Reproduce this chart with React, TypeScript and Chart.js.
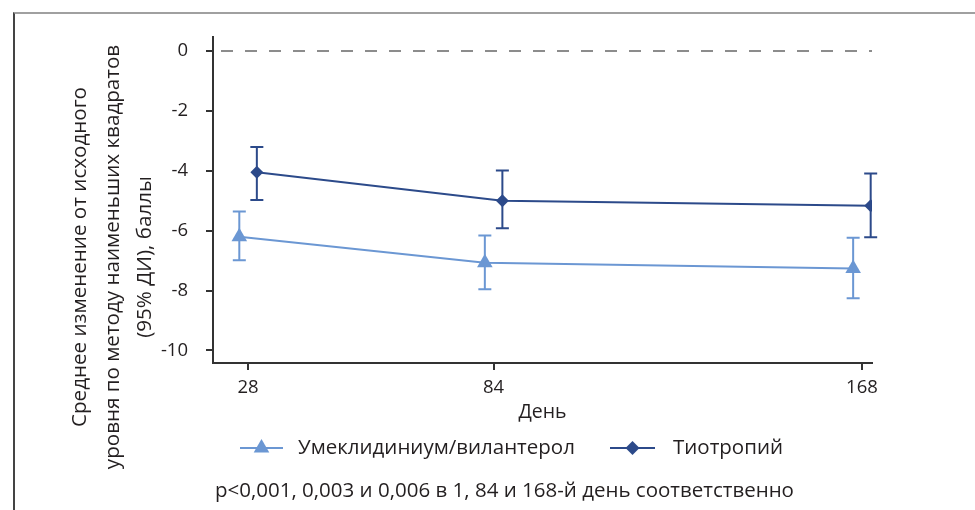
import React, { useEffect, useRef } from 'react';
import { Chart, registerables } from 'chart.js';

Chart.register(...registerables);

// ---- data ----
const days = [28, 84, 168];
const yTickValues = [0, -2, -4, -6, -8, -10];
const seriesNames = ['Умеклидиниум/вилантерол', 'Тиотропий'];
const umecMean = [-6.2, -7.07, -7.26];
const umecLow = [-6.99, -7.96, -8.26];
const umecHigh = [-5.36, -6.16, -6.24];
const tioMean = [-4.05, -5.0, -5.17];
const tioLow = [-4.98, -5.92, -6.22];
const tioHigh = [-3.21, -3.99, -4.09];
const dodgeDays = 2;
const xTitle = 'День';
const yTitleLines = [
  'Среднее изменение от исходного',
  'уровня по методу наименьших квадратов',
  '(95% ДИ), баллы',
];
const footnote = 'p<0,001, 0,003 и 0,006 в 1, 84 и 168-й день соответственно';

// ---- style ----
const LIGHT = '#6b97d3';
const DARK = '#2c4a8a';
const TEXT = '#231f20';
const FONT = '"Open Sans", "Noto Sans", sans-serif';

const lowHigh = [
  { low: umecLow, high: umecHigh, color: LIGHT },
  { low: tioLow, high: tioHigh, color: DARK },
];

const extrasPlugin = {
  id: 'extras',
  beforeDatasetsDraw(chart: any) {
    const { ctx, chartArea, scales } = chart;
    const y0 = scales.y.getPixelForValue(0);
    ctx.save();
    ctx.strokeStyle = '#8c8c8c';
    ctx.lineWidth = 2;
    ctx.setLineDash([12, 12]);
    ctx.beginPath();
    ctx.moveTo(chartArea.left + 8, y0);
    ctx.lineTo(chartArea.right, y0);
    ctx.stroke();
    ctx.restore();
  },
  afterDatasetsDraw(chart: any) {
    const { ctx, scales } = chart;
    ctx.save();
    lowHigh.forEach((s, i) => {
      const meta = chart.getDatasetMeta(i);
      ctx.strokeStyle = s.color;
      ctx.lineWidth = 2;
      meta.data.forEach((pt: any, j: number) => {
        const x = pt.x;
        const yl = scales.y.getPixelForValue(s.low[j]);
        const yh = scales.y.getPixelForValue(s.high[j]);
        ctx.beginPath();
        ctx.moveTo(x, yl);
        ctx.lineTo(x, yh);
        ctx.moveTo(x - 6.5, yl);
        ctx.lineTo(x + 6.5, yl);
        ctx.moveTo(x - 6.5, yh);
        ctx.lineTo(x + 6.5, yh);
        ctx.stroke();
      });
    });
    ctx.restore();
  },
  afterDraw(chart: any) {
    const { ctx } = chart;
    ctx.save();
    ctx.fillStyle = TEXT;
    // y title
    ctx.font = `20.6px ${FONT}`;
    ctx.textAlign = 'center';
    ctx.textBaseline = 'middle';
    const xs = [80, 113, 145];
    yTitleLines.forEach((line, i) => {
      ctx.save();
      ctx.translate(xs[i], 257);
      ctx.rotate(-Math.PI / 2);
      ctx.fillText(line, 0, 0);
      ctx.restore();
    });
    // legend
    const ly = 448;
    ctx.font = `20.5px ${FONT}`;
    ctx.textAlign = 'left';
    // item 1
    ctx.strokeStyle = LIGHT;
    ctx.lineWidth = 2;
    ctx.beginPath();
    ctx.moveTo(240, ly);
    ctx.lineTo(283, ly);
    ctx.stroke();
    ctx.fillStyle = LIGHT;
    ctx.beginPath();
    ctx.moveTo(261.5, ly - 9);
    ctx.lineTo(261.5 + 7.8, ly + 4.5);
    ctx.lineTo(261.5 - 7.8, ly + 4.5);
    ctx.closePath();
    ctx.fill();
    ctx.fillStyle = TEXT;
    ctx.fillText(seriesNames[0], 298, ly);
    // item 2
    ctx.strokeStyle = DARK;
    ctx.beginPath();
    ctx.moveTo(610, ly);
    ctx.lineTo(655, ly);
    ctx.stroke();
    ctx.fillStyle = DARK;
    ctx.beginPath();
    ctx.moveTo(632.5, ly - 7);
    ctx.lineTo(639.5, ly);
    ctx.lineTo(632.5, ly + 7);
    ctx.lineTo(625.5, ly);
    ctx.closePath();
    ctx.fill();
    ctx.fillStyle = TEXT;
    ctx.fillText(seriesNames[1], 673, ly);
    // footnote
    ctx.fillText(footnote, 215, 491);
    ctx.restore();
  },
};

export default function App() {
  const ref = useRef<HTMLCanvasElement | null>(null);
  useEffect(() => {
    if (!ref.current) return;
    const chart = new Chart(ref.current, {
      type: 'line',
      data: {
        datasets: [
          {
            label: seriesNames[0],
            data: days.map((d, i) => ({ x: d - dodgeDays, y: umecMean[i] })),
            borderColor: LIGHT,
            backgroundColor: LIGHT,
            borderWidth: 2,
            pointStyle: 'triangle',
            pointRadius: 9,
            pointBorderWidth: 0,
          },
          {
            label: seriesNames[1],
            data: days.map((d, i) => ({ x: d + dodgeDays, y: tioMean[i] })),
            borderColor: DARK,
            backgroundColor: DARK,
            borderWidth: 2,
            pointStyle: 'rectRot',
            pointRadius: 6.5,
            pointBorderWidth: 0,
          },
        ],
      },
      options: {
        animation: false,
        responsive: false,
        devicePixelRatio: 1,
        layout: { padding: { left: 0, top: 37, right: 103, bottom: 86 } },
        plugins: { legend: { display: false }, tooltip: { enabled: false } },
        scales: {
          x: {
            type: 'linear',
            min: 20,
            max: 170.3,
            afterBuildTicks: (s: any) => {
              s.ticks = days.map((v) => ({ value: v }));
            },
            afterFit: (s: any) => {
              s.height = 61;
            },
            border: { color: '#333', width: 2 },
            grid: { drawOnChartArea: false, drawTicks: true, tickLength: 7, tickColor: '#333', lineWidth: 2 },
            ticks: { color: TEXT, font: { family: FONT, size: 18.5 }, padding: 7, maxRotation: 0 },
            title: { display: true, text: xTitle, color: TEXT, font: { family: FONT, size: 19.5 }, padding: { top: 0, bottom: 0 } },
          },
          y: {
            type: 'linear',
            min: -10.42,
            max: 0.468,
            afterBuildTicks: (s: any) => {
              s.ticks = yTickValues.map((v) => ({ value: v }));
            },
            afterFit: (s: any) => {
              s.width = 213;
            },
            border: { color: '#333', width: 2 },
            grid: { drawOnChartArea: false, drawTicks: true, tickLength: 7, tickColor: '#333', lineWidth: 2 },
            ticks: { color: TEXT, font: { family: FONT, size: 18.5 }, padding: 18 },
          },
        },
      },
      plugins: [extrasPlugin],
    } as any);
    return () => chart.destroy();
  }, []);
  return (
    <div style={{ position: 'absolute', left: 0, top: 0, width: 975, height: 510, background: '#fff' }}>
      <div
        style={{
          position: 'absolute',
          left: 13,
          top: 12,
          width: 962,
          height: 498,
          borderTop: '2px solid #a0a0a0',
          borderLeft: '2px solid #444',
          boxSizing: 'border-box',
        }}
      />
      <canvas ref={ref} width={975} height={510} style={{ position: 'absolute', left: 0, top: 0, width: 975, height: 510 }} />
    </div>
  );
}
